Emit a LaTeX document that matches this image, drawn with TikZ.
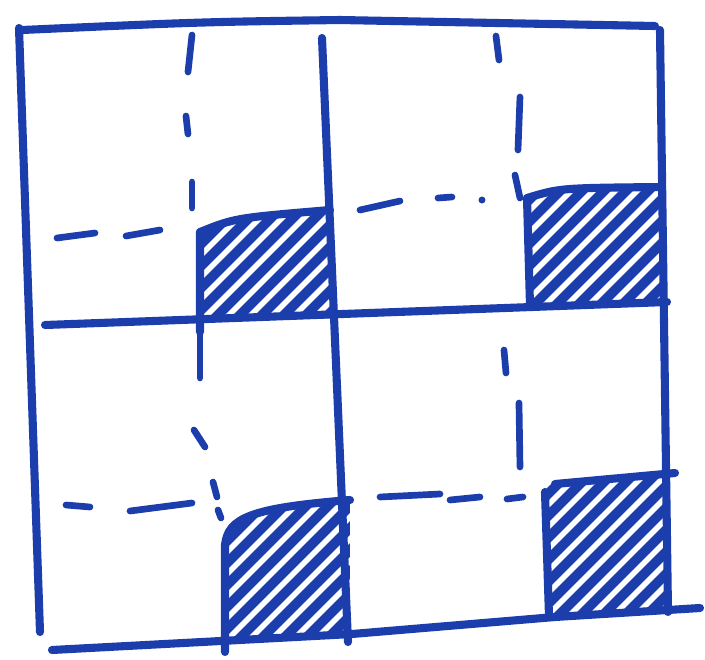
\documentclass[tikz,border=0pt]{standalone}
\definecolor{ink}{RGB}{28,62,172}
\begin{document}
\begin{tikzpicture}[
		x=0.01cm, y=-0.01cm,
		pen/.style={draw=ink, line width=2.3pt, line cap=round, line join=round},
		dashpen/.style={draw=ink, line width=1.9pt, line cap=round},
		hatch/.style={draw=ink, line width=2.8pt, line cap=round},
	]
	\useasboundingbox (0,0) rectangle (705,660);
	% hatched corners (strokes first, frame on top)
	\begin{scope}
		\clip (200,322) -- (200,232) .. controls (235,218) .. (330,210) -- (336,318) -- cycle;
		\foreach \k in {-200,-178,...,200}
			\draw[hatch] ({265+\k-100},{270+100}) -- ++(200,-200);
	\end{scope}
	\begin{scope}
		\clip (530,304) -- (527,198) .. controls (560,188) .. (662,187) -- (664,300) -- cycle;
		\foreach \k in {-200,-178,...,200}
			\draw[hatch] ({595+\k-100},{246+100}) -- ++(200,-200);
	\end{scope}
	\begin{scope}
		\clip (225,640) -- (225,545) .. controls (228,518) and (250,508) .. (350,500) -- (350,636) -- cycle;
		\foreach \k in {-200,-178,...,200}
			\draw[hatch] ({288+\k-100},{570+100}) -- ++(200,-200);
	\end{scope}
	\begin{scope}
		\clip (547,614) -- (545,485) -- (670,474) -- (670,610) -- cycle;
		\foreach \k in {-200,-178,...,200}
			\draw[hatch] ({608+\k-100},{546+100}) -- ++(200,-200);
	\end{scope}
	% outer frame
	\draw[pen] (22,30) .. controls (200,22) .. (340,20) -- (655,26);
	\draw[pen] (19,28) -- (40,632);
	\draw[pen] (660,30) -- (668,612);
	\draw[pen] (52,650) -- (352,634) -- (555,617) -- (700,608);
	% middle lines
	\draw[pen] (45,325) -- (667,302);
	\draw[pen] (322,38) -- (348,642);
	% hatched box edges
	\draw[pen] (200,332) -- (200,232) .. controls (235,218) .. (330,210);
	\draw[pen] (530,305) -- (527,198) .. controls (560,188) .. (662,187);
	\draw[pen] (225,652) -- (225,545) .. controls (228,518) and (250,508) .. (350,500);
	\draw[pen] (549,616) -- (545,492);
	\draw[pen] (555,484) -- (675,473);
	% dashed dividers, top left
	\draw[dashpen] (192,35) -- (188,72);
	\draw[dashpen] (186,116) -- (188,134);
	\draw[dashpen] (192,182) -- (192,208);
	\draw[dashpen] (57,238) -- (95,233);
	\draw[dashpen] (126,236) -- (160,230);
	% dashed dividers, top right
	\draw[dashpen] (496,36) -- (499,60);
	\draw[dashpen] (520,97) -- (518,150);
	\draw[dashpen] (515,175) -- (520,198);
	\draw[dashpen] (360,210) -- (400,201);
	\draw[dashpen] (438,198) -- (452,197);
	\fill[ink] (482,200) circle (3.5);
	% dashed dividers, bottom left
	\draw[dashpen] (200,335) -- (200,378);
	\draw[dashpen] (194,430) -- (205,447);
	\draw[dashpen] (213,482) -- (217,497);
	\draw[dashpen] (218,510) -- (221,518);
	\draw[dashpen] (66,505) -- (90,507);
	\draw[dashpen] (130,511) -- (192,503);
	% dashed dividers, bottom right
	\draw[dashpen] (504,350) -- (506,373);
	\draw[dashpen] (519,403) -- (520,467);
	\draw[dashpen] (380,497) -- (440,494);
	\draw[dashpen] (450,500) -- (480,497);
	\draw[dashpen] (507,499) -- (523,497);
\end{tikzpicture}
\end{document}
